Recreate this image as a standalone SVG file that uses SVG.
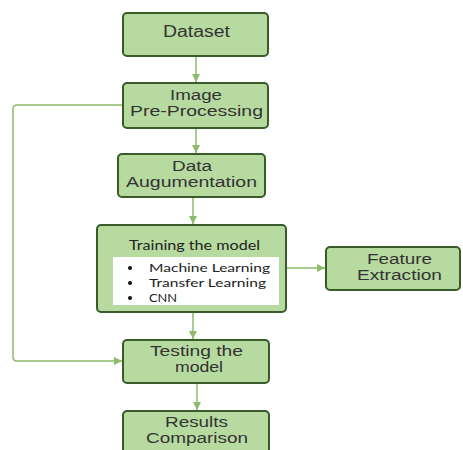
<svg xmlns="http://www.w3.org/2000/svg" width="463" height="450" viewBox="0 0 463 450">
<style>
.box{fill:#b7daa0;stroke:#3a5a2a;stroke-width:2}
.lbl{font-family:"Liberation Sans",Arial,sans-serif;font-size:14px;fill:#333;text-anchor:middle}
.sm{font-family:Lato,"Liberation Sans",sans-serif;font-size:12px;fill:#222}
.con{fill:none;stroke:#8dbb6a;stroke-width:1.5}
</style>
<defs>
<marker id="ah" viewBox="0 0 10 10" refX="10" refY="5" markerWidth="8" markerHeight="8" markerUnits="userSpaceOnUse" orient="auto">
<path d="M0,0 L10,5 L0,10 z" fill="#8dbb6a"/>
</marker>
</defs>
<rect width="463" height="450" fill="#fff"/>
<g id="connectors">
<path class="con" d="M196,56 V82" marker-end="url(#ah)"/>
<path class="con" d="M196,128 V153" marker-end="url(#ah)"/>
<path class="con" d="M193,197 V224" marker-end="url(#ah)"/>
<path class="con" d="M193,312 V339" marker-end="url(#ah)"/>
<path class="con" d="M197,383 V410" marker-end="url(#ah)"/>
<path class="con" d="M286,268 H325" marker-end="url(#ah)"/>
<path class="con" d="M123,105 H17 Q13,105 13,109 V357 Q13,361 17,361 H122" marker-end="url(#ah)"/>
</g>
<g id="dataset">
<rect class="box" x="123" y="13" width="145" height="43" rx="4"/>
<text class="lbl" x="196.5" y="37" style="font-size:16px" textLength="67" lengthAdjust="spacingAndGlyphs">Dataset</text>
</g>
<g id="preprocessing">
<rect class="box" x="123" y="83" width="145" height="45" rx="4"/>
<text class="lbl" x="196" y="100" textLength="52" lengthAdjust="spacingAndGlyphs">Image</text>
<text class="lbl" x="196.5" y="116" textLength="133" lengthAdjust="spacingAndGlyphs">Pre-Processing</text>
</g>
<g id="augmentation">
<rect class="box" x="118" y="154" width="147" height="43" rx="4"/>
<text class="lbl" x="192" y="171" textLength="40" lengthAdjust="spacingAndGlyphs">Data</text>
<text class="lbl" x="191.5" y="187" textLength="131" lengthAdjust="spacingAndGlyphs">Augumentation</text>
</g>
<g id="training">
<rect class="box" x="97" y="225" width="189" height="87" rx="4"/>
<text class="sm" x="129" y="250" style="font-size:13px" textLength="131" lengthAdjust="spacingAndGlyphs">Training the model</text>
<rect x="113" y="257" width="166" height="48" fill="#fff"/>
<circle cx="130" cy="268" r="2" fill="#111"/>
<circle cx="130" cy="283" r="2" fill="#111"/>
<circle cx="130" cy="298" r="2" fill="#111"/>
<text class="sm" x="149" y="272" textLength="121" lengthAdjust="spacingAndGlyphs">Machine Learning</text>
<text class="sm" x="149" y="287" textLength="117" lengthAdjust="spacingAndGlyphs">Transfer Learning</text>
<text class="sm" x="149" y="302" textLength="28" lengthAdjust="spacingAndGlyphs">CNN</text>
</g>
<g id="feature">
<rect class="box" x="326" y="247" width="134" height="43" rx="4"/>
<text class="lbl" x="399.5" y="264" textLength="65" lengthAdjust="spacingAndGlyphs">Feature</text>
<text class="lbl" x="399.5" y="280" textLength="85" lengthAdjust="spacingAndGlyphs">Extraction</text>
</g>
<g id="testing">
<rect class="box" x="123" y="340" width="146" height="43" rx="4"/>
<text class="lbl" x="196.5" y="356" textLength="93" lengthAdjust="spacingAndGlyphs">Testing the</text>
<text class="lbl" x="199" y="372" textLength="48" lengthAdjust="spacingAndGlyphs">model</text>
</g>
<g id="results">
<rect class="box" x="123" y="411" width="146" height="46" rx="4"/>
<text class="lbl" x="196.5" y="427" textLength="63" lengthAdjust="spacingAndGlyphs">Results</text>
<text class="lbl" x="197" y="443" textLength="102" lengthAdjust="spacingAndGlyphs">Comparison</text>
</g>
</svg>
